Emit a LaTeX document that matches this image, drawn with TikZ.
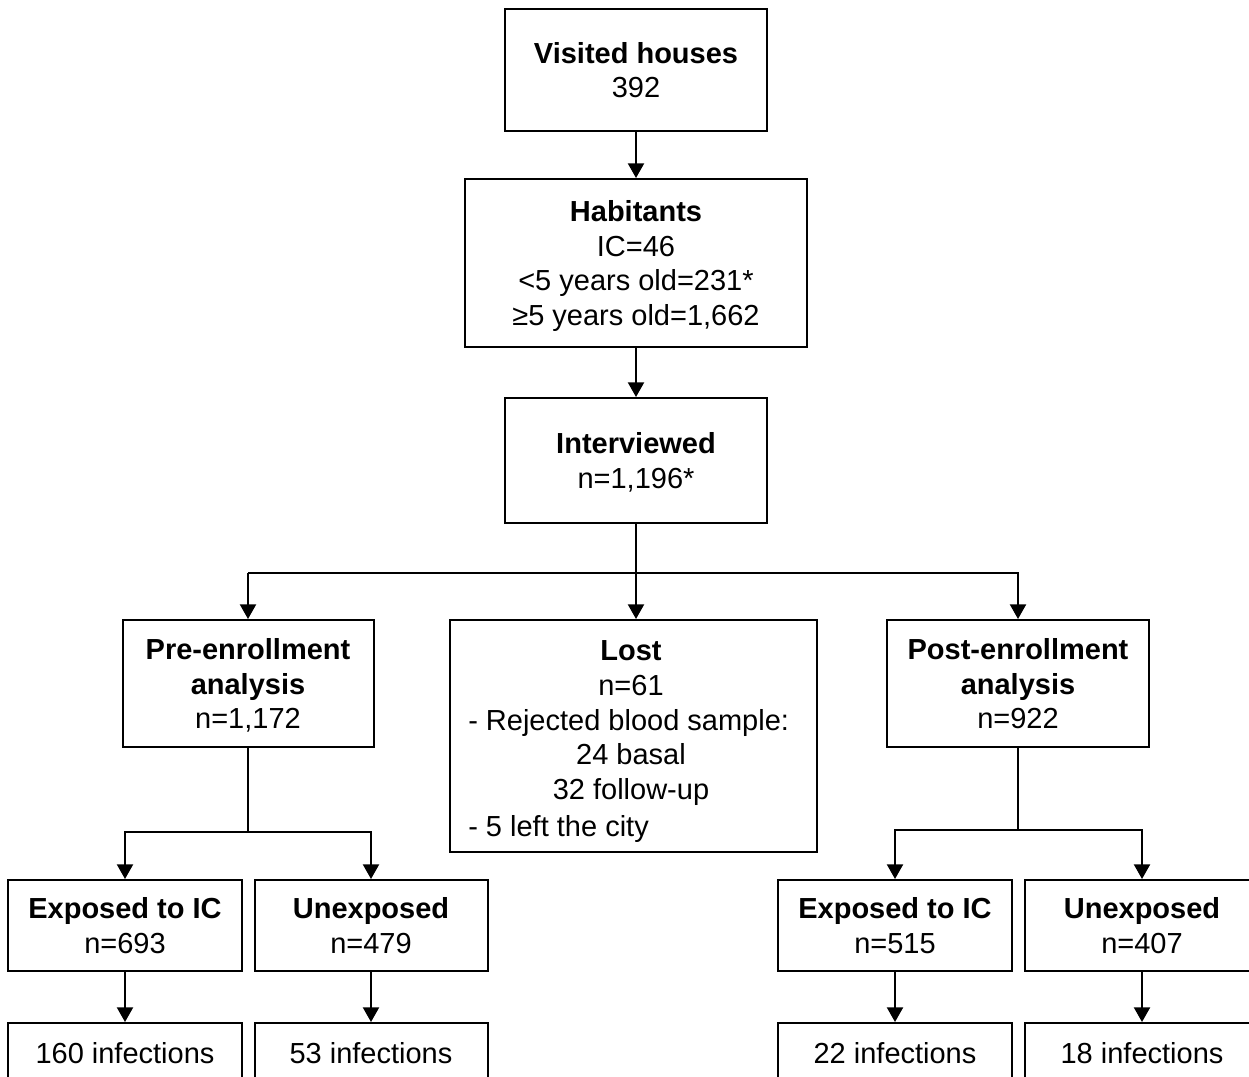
\documentclass[tikz,border=0pt]{standalone}
\usepackage{fontspec}
\setmainfont{Liberation Sans}
\usetikzlibrary{arrows.meta}
\begin{document}
\begin{tikzpicture}[x=0.75pt,y=-0.75pt,
  box/.style={draw=black,line width=1.5pt,inner sep=0pt,align=center,text depth=0pt,
    font=\fontsize{21.75}{26}\selectfont},
  lbl/.style={inner sep=0pt,font=\fontsize{21.75}{26}\selectfont,text height=15.6pt,text depth=0pt},
  arr/.style={line width=1.6pt,-{Triangle[width=12pt,length=11pt]}},
  ln/.style={line width=1.6pt}]
\useasboundingbox (0,0) rectangle (1249,1076);
\node[box,minimum width=196.5pt,minimum height=91.5pt] (visited) at (636,70)
  {\textbf{Visited houses}\\392};
\node[box,minimum width=256.5pt,minimum height=126pt] (habit) at (636,263)
  {\textbf{Habitants}\\IC=46\\<5 years old=231*\\≥5 years old=1,662};
\node[box,minimum width=196.5pt,minimum height=93.75pt] (interv) at (636,460.5)
  {\textbf{Interviewed}\\n=1,196*};
\node[box,minimum width=188.25pt,minimum height=95.25pt] (pre) at (248,683.5)
  {\textbf{Pre-enrollment}\\\textbf{analysis}\\n=1,172};
\node[box,minimum width=275.25pt,minimum height=174pt] (lost) at (633.5,736) {};
\node[lbl] (lostt) at (631,650) {\textbf{Lost}};
\node[lbl] (lostn) at (631,685) {n=61};
\node[lbl,anchor=west] (lostr) at (468,720) {- Rejected blood sample:};
\node[lbl] (lostb) at (631,754) {24 basal};
\node[lbl] (lostf) at (631,789) {32 follow-up};
\node[lbl,anchor=west] (lostc) at (468,826) {- 5 left the city};
\node[box,minimum width=196.5pt,minimum height=95.25pt] (post) at (1018,683.5)
  {\textbf{Post-enrollment}\\\textbf{analysis}\\n=922};
\node[box,minimum width=175.5pt,minimum height=68.25pt] (expL) at (125,925.5)
  {\textbf{Exposed to IC}\\n=693};
\node[box,minimum width=174.75pt,minimum height=68.25pt] (unL) at (371,925.5)
  {\textbf{Unexposed}\\n=479};
\node[box,minimum width=175.5pt,minimum height=68.25pt] (expR) at (895,925.5)
  {\textbf{Exposed to IC}\\n=515};
\node[box,minimum width=175.5pt,minimum height=68.25pt] (unR) at (1142,925.5)
  {\textbf{Unexposed}\\n=407};
\node[box,minimum width=175.5pt,minimum height=45pt] (infEL) at (125,1053) {160 infections};
\node[box,minimum width=174.75pt,minimum height=45pt] (infUL) at (371,1053) {53 infections};
\node[box,minimum width=175.5pt,minimum height=45pt] (infER) at (895,1053) {22 infections};
\node[box,minimum width=175.5pt,minimum height=45pt] (infUR) at (1142,1053) {18 infections};
% connectors
\draw[arr] (visited) -- (habit);
\draw[arr] (habit) -- (interv);
\draw[arr] (interv.south) -- (interv.south |- lost.north);
\coordinate (hL) at (248,573);
\coordinate (hR) at (1018,573);
\draw[arr] (hL) -- (pre.north);
\draw[arr,line join=miter] (hL) -- (hR) -- (post.north);
\coordinate (pb) at (248,832);
\draw[ln] (pre.south) -- (pb);
\draw[arr] (pb) -| (expL.north);
\draw[arr] (pb) -| (unL.north);
\coordinate (qb) at (1018,830);
\draw[ln] (post.south) -- (qb);
\draw[arr] (qb) -| (expR.north);
\draw[arr] (qb) -| (unR.north);
\draw[arr] (expL) -- (infEL);
\draw[arr] (unL) -- (infUL);
\draw[arr] (expR) -- (infER);
\draw[arr] (unR) -- (infUR);
\end{tikzpicture}
\end{document}
